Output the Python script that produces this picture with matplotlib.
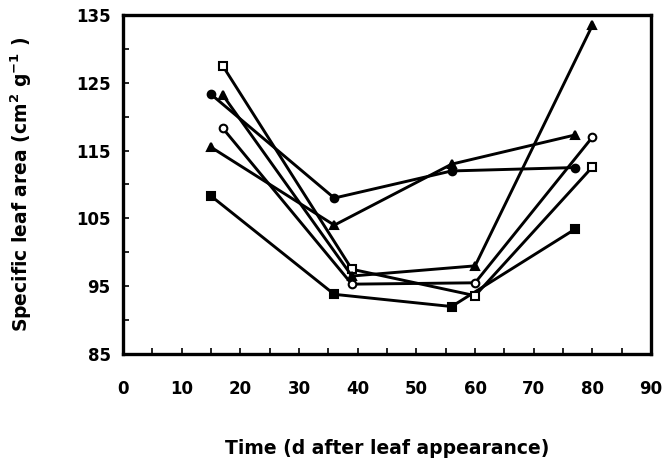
import matplotlib
matplotlib.use("Agg")
import matplotlib.pyplot as plt
from matplotlib.ticker import MultipleLocator

plt.rcParams['font.family'] = ['DejaVu Sans']
plt.rcParams['mathtext.fontset'] = 'dejavusans'
plt.rcParams['mathtext.default'] = 'regular'

# Sampling days (d after leaf appearance)
days_early = [15, 36, 56, 77]
days_late = [17, 39, 60, 80]

# Specific leaf area (cm2 g-1) per series
sla_filled_circle = [123.3, 108.0, 112.0, 112.5]
sla_filled_triangle = [115.5, 104.0, 113.0, 117.3]
sla_filled_square = [108.3, 93.8, 92.0, 103.4]
sla_open_square = [127.5, 97.5, 93.6, 112.6]
sla_open_triangle = [123.2, 96.5, 98.0, 133.5]
sla_open_circle = [118.3, 95.3, 95.5, 117.0]

xticks = [0, 10, 20, 30, 40, 50, 60, 70, 80, 90]
yticks = [85, 95, 105, 115, 125, 135]

fig = plt.figure(figsize=(6.66, 4.62), dpi=100)
ax = fig.add_axes([0.1847, 0.2338, 0.793, 0.7337])

series = [
    (days_early, sla_filled_circle, 'o', 'black'),
    (days_early, sla_filled_triangle, '^', 'black'),
    (days_early, sla_filled_square, 's', 'black'),
    (days_late, sla_open_square, 's', 'white'),
    (days_late, sla_open_triangle, '^', 'black'),
    (days_late, sla_open_circle, 'o', 'white'),
]
for x, y, m, fc in series:
    ax.plot(x, y, color='black', lw=2.1, marker=m, markersize=5.5,
            markerfacecolor=fc, markeredgecolor='black', markeredgewidth=1.5,
            zorder=3)

ax.set_xlim(0, 90)
ax.set_ylim(85, 135)
ax.set_xticks(xticks)
ax.set_yticks(yticks)
ax.xaxis.set_minor_locator(MultipleLocator(5))
ax.yaxis.set_minor_locator(MultipleLocator(5))
ax.tick_params(which='both', direction='in', length=4, width=1.2,
               top=False, right=False)
ax.tick_params(axis='x', which='major', labelsize=12, pad=19)
ax.tick_params(axis='y', which='major', labelsize=12, pad=9)
for lab in ax.get_xticklabels() + ax.get_yticklabels():
    lab.set_fontweight('bold')
for s in ax.spines.values():
    s.set_linewidth(2.4)

ax.set_xlabel('Time (d after leaf appearance)', fontsize=13.5,
              fontweight='bold', labelpad=29)
ax.set_ylabel('Specific leaf area (cm$^{2}$ g$^{-1}$ )', fontsize=13.5,
              fontweight='bold', labelpad=30)

fig.savefig('out.png', dpi=100)
